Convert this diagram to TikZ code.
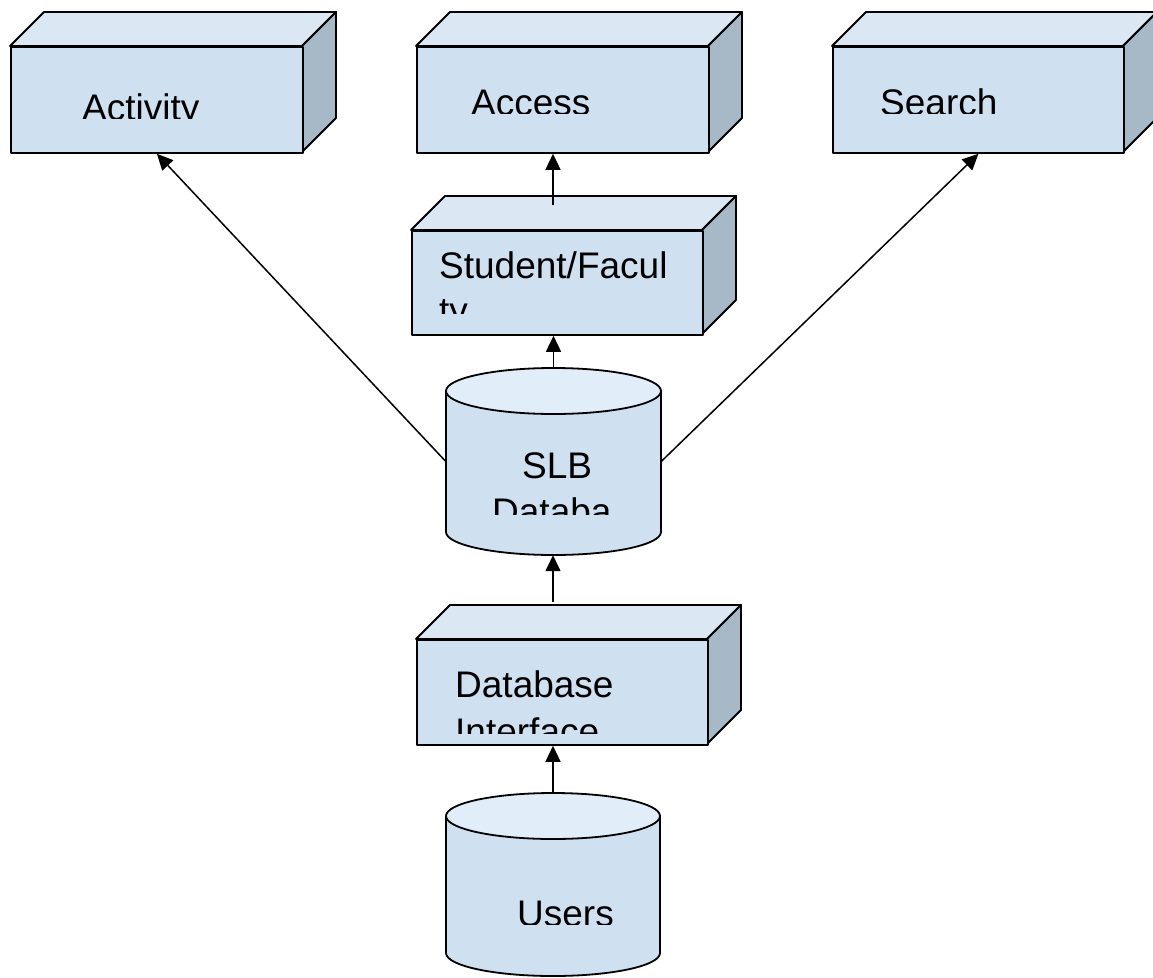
\documentclass[tikz,border=0pt]{standalone}
\usepackage{fontspec}
\setmainfont{Liberation Sans}
\usetikzlibrary{arrows.meta}
\definecolor{frontc}{RGB}{207,224,241}
\definecolor{topc}{RGB}{219,232,244}
\definecolor{sidec}{RGB}{167,184,198}
\definecolor{captop}{RGB}{225,237,248}
\tikzset{
  edge3d/.style={draw=black, line width=1.8pt, line join=round},
  frontface/.style={edge3d, fill=frontc, rectangle, inner sep=0pt, anchor=north west},
  lbl/.style={anchor=base west, inner sep=0pt, font=\fontsize{37}{44}\selectfont},
  conn/.style={line width=1.5pt, -{Triangle[length=16pt,width=15pt]}},
  cylbody/.style={edge3d, fill=frontc},
  cyltop/.style={edge3d, fill=captop}
}
% #1 name, #2 x1, #3 y1, #4 x2, #5 y2 (front face), depth 34
\newcommand\boxthreed[5]{%
  \path[edge3d, fill=topc] (#2,#3) -- ({#2+34},{#3-34}) -- ({#4+34},{#3-34}) -- (#4,#3) -- cycle;
  \path[edge3d, fill=sidec] (#4,#3) -- ({#4+34},{#3-34}) -- ({#4+34},{#5-34}) -- (#4,#5) -- cycle;
  \node[frontface, minimum width={(#4-#2)*1pt}, minimum height={(#5-#3)*1pt}] (#1) at (#2,#3) {};
}
% #1 name, #2 left, #3 right, #4 top centre y, #5 bottom centre y, ry 23
\newcommand\cylinderdb[5]{%
  \path[cylbody] (#2,#4) -- (#2,#5) arc[start angle=180, end angle=360, x radius={(#3-#2)/2*1pt}, y radius=23pt] -- (#3,#4) -- cycle;
  \path[cyltop] ({(#2+#3)/2},#4) ellipse[x radius={(#3-#2)/2*1pt}, y radius=23pt];
  \node[inner sep=0pt, minimum width={(#3-#2)*1pt}, minimum height={(#5-#4+46)*1pt}] (#1) at ({(#2+#3)/2},{(#4+#5)/2}) {};
}
\begin{document}
\begin{tikzpicture}[x=1pt, y=-1pt]
\useasboundingbox (0,0) rectangle (1153,977);
\begin{scope}
\clip (0,0) rectangle (1153,977);

% boxes
\boxthreed{act}{10}{46}{302}{152}
\boxthreed{acc}{416}{46}{708}{152}
\boxthreed{srch}{832}{46}{1123}{152}
\boxthreed{stu}{411}{230}{702}{334}
\boxthreed{dbi}{416}{639}{707}{744}

% cylinders
\cylinderdb{slb}{446}{661}{391}{532}
\cylinderdb{users}{446}{660}{816}{953}

% labels (clipped as in the original)
\begin{scope}\clip (12,48) rectangle (300,118);
\node[lbl] (actT) at (82,120.5) {Activity};\end{scope}
\begin{scope}\clip (418,48) rectangle (706,113);
\node[lbl] (accT) at (471,115.8) {Access};\end{scope}
\begin{scope}\clip (834,48) rectangle (1121,113);
\node[lbl] (srchT) at (880,115.8) {Search};\end{scope}
\begin{scope}\clip (413,232) rectangle (700,313);
\node[lbl] (stuT1) at (439,278) {Student/Facul};
\node[lbl] (stuT2) at (439,323) {ty};\end{scope}
\begin{scope}\clip (448,420) rectangle (659,514);
\node[lbl] (slbT1) at (522,478) {SLB};
\node[lbl] (slbT2) at (492,524) {Databa};\end{scope}
\begin{scope}\clip (418,641) rectangle (705,733);
\node[lbl] (dbiT1) at (455,697) {Database};
\node[lbl] (dbiT2) at (455,744) {Interface};\end{scope}
\begin{scope}\clip (448,845) rectangle (658,924);
\node[lbl] (usersT) at (517,926) {Users};\end{scope}

% connectors
\coordinate (stutop) at (553,205);
\coordinate (dbitop) at (553,602);
\draw[conn] (slb.west) -- (act.south);
\draw[conn] (slb.east) -- (srch.south);
\draw[conn] (stutop) -- (stutop |- acc.south);
\draw[conn] (slb.north) -- (slb.north |- stu.south);
\draw[conn] (dbitop) -- (dbitop |- slb.south);
\draw[conn] (users.north) -- (users.north |- dbi.south);
\end{scope}
\end{tikzpicture}
\end{document}
